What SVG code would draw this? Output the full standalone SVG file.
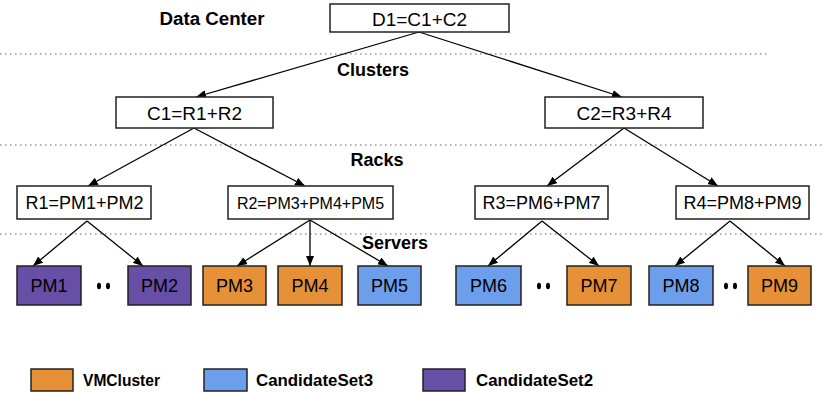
<svg xmlns="http://www.w3.org/2000/svg" width="824" height="393" viewBox="0 0 824 393">
<style>
.box{fill:#fff;stroke:#222;stroke-width:1.5}
.pm{stroke:#222;stroke-width:1.5}
.or{fill:#e69138}.bl{fill:#6d9eeb}.pu{fill:#674ea7}
.t{font-family:"Liberation Sans",Arial,sans-serif;font-size:18px;fill:#000;text-anchor:middle}
.lab{font-family:"Liberation Sans",Arial,sans-serif;font-size:18px;font-weight:bold;fill:#000;text-anchor:middle}
.leg{font-family:"Liberation Sans",Arial,sans-serif;font-size:16px;font-weight:bold;fill:#000}
.dot{stroke:#999;stroke-width:1.5;stroke-dasharray:1.5 3.5;fill:none}
.c{stroke:#000;stroke-width:1.3;fill:none;marker-end:url(#ah)}
</style>
<defs>
<marker id="ah" markerUnits="userSpaceOnUse" markerWidth="10" markerHeight="8" refX="10" refY="4" orient="auto">
<path d="M0,0 L10,4 L0,8 z" fill="#000"/>
</marker>
</defs>
<rect width="824" height="393" fill="#fff"/>
<g id="layers">
<line class="dot" x1="0" y1="54" x2="768" y2="54"/>
<line class="dot" x1="0" y1="145" x2="822" y2="145"/>
<line class="dot" x1="0" y1="234" x2="822" y2="234"/>
<text class="lab" x="212" y="25" textLength="105" lengthAdjust="spacingAndGlyphs">Data Center</text>
<text class="lab" x="373" y="76">Clusters</text>
<text class="lab" x="377" y="166">Racks</text>
<text class="lab" x="395" y="249">Servers</text>
</g>
<g id="connectors">
<line class="c" x1="419" y1="32" x2="196" y2="97"/>
<line class="c" x1="419" y1="32" x2="622" y2="97"/>
<line class="c" x1="194" y1="128" x2="88" y2="186"/>
<line class="c" x1="194" y1="128" x2="305" y2="186"/>
<line class="c" x1="624" y1="128" x2="547" y2="186"/>
<line class="c" x1="624" y1="128" x2="718" y2="186"/>
<line class="c" x1="87" y1="221" x2="33" y2="266"/>
<line class="c" x1="87" y1="221" x2="143" y2="266"/>
<line class="c" x1="310" y1="220" x2="237" y2="266"/>
<line class="c" x1="310" y1="220" x2="310" y2="266"/>
<line class="c" x1="310" y1="220" x2="388" y2="266"/>
<line class="c" x1="542" y1="221" x2="488" y2="266"/>
<line class="c" x1="542" y1="221" x2="599" y2="266"/>
<line class="c" x1="730" y1="221" x2="675" y2="266"/>
<line class="c" x1="730" y1="221" x2="785" y2="266"/>
</g>
<g id="D1"><rect class="box" x="330" y="4" width="179" height="28"/><text class="t" x="419.5" y="26" textLength="95" lengthAdjust="spacingAndGlyphs">D1=C1+C2</text></g>
<g id="C1"><rect class="box" x="116" y="97" width="157" height="31"/><text class="t" x="194.5" y="120" textLength="95" lengthAdjust="spacingAndGlyphs">C1=R1+R2</text></g>
<g id="C2"><rect class="box" x="545" y="97" width="158" height="31"/><text class="t" x="624" y="120" textLength="95" lengthAdjust="spacingAndGlyphs">C2=R3+R4</text></g>
<g id="R1"><rect class="box" x="17" y="186" width="134" height="33"/><text class="t" x="84.5" y="209">R1=PM1+PM2</text></g>
<g id="R2"><rect class="box" x="228" y="186" width="165" height="33"/><text class="t" x="310.5" y="209" style="font-size:16px">R2=PM3+PM4+PM5</text></g>
<g id="R3"><rect class="box" x="475" y="186" width="133" height="33"/><text class="t" x="541.5" y="209">R3=PM6+PM7</text></g>
<g id="R4"><rect class="box" x="676" y="186" width="133" height="33"/><text class="t" x="742.5" y="209">R4=PM8+PM9</text></g>
<g id="PM1"><rect class="pm pu" x="17" y="266" width="64" height="39"/><text class="t" x="49" y="292">PM1</text></g>
<g id="PM2"><rect class="pm pu" x="128" y="266" width="63" height="39"/><text class="t" x="159.5" y="292">PM2</text></g>
<g id="PM3"><rect class="pm or" x="203" y="266" width="63" height="39"/><text class="t" x="234.5" y="292">PM3</text></g>
<g id="PM4"><rect class="pm or" x="278" y="266" width="64" height="39"/><text class="t" x="310" y="292">PM4</text></g>
<g id="PM5"><rect class="pm bl" x="358" y="266" width="63" height="39"/><text class="t" x="389.5" y="292">PM5</text></g>
<g id="PM6"><rect class="pm bl" x="456" y="266" width="65" height="39"/><text class="t" x="488.5" y="292">PM6</text></g>
<g id="PM7"><rect class="pm or" x="567" y="266" width="64" height="39"/><text class="t" x="599" y="292">PM7</text></g>
<g id="PM8"><rect class="pm bl" x="649" y="266" width="64" height="39"/><text class="t" x="681" y="292">PM8</text></g>
<g id="PM9"><rect class="pm or" x="748" y="266" width="63" height="39"/><text class="t" x="779.5" y="292">PM9</text></g>
<g id="ellipses" fill="#000">
<ellipse cx="99" cy="286" rx="2" ry="3.2"/><ellipse cx="108" cy="286" rx="2" ry="3.2"/>
<ellipse cx="539" cy="286" rx="2" ry="3.2"/><ellipse cx="548" cy="286" rx="2" ry="3.2"/>
<ellipse cx="726" cy="286" rx="2" ry="3.2"/><ellipse cx="735" cy="286" rx="2" ry="3.2"/>
</g>
<g id="legend">
<rect class="pm or" x="31" y="369" width="42" height="22"/><text class="leg" x="83" y="386" textLength="77" lengthAdjust="spacingAndGlyphs">VMCluster</text>
<rect class="pm bl" x="204" y="369" width="43" height="22"/><text class="leg" x="256" y="386" textLength="117" lengthAdjust="spacingAndGlyphs">CandidateSet3</text>
<rect class="pm pu" x="423" y="369" width="42" height="22"/><text class="leg" x="476" y="386" textLength="117" lengthAdjust="spacingAndGlyphs">CandidateSet2</text>
</g>
</svg>
